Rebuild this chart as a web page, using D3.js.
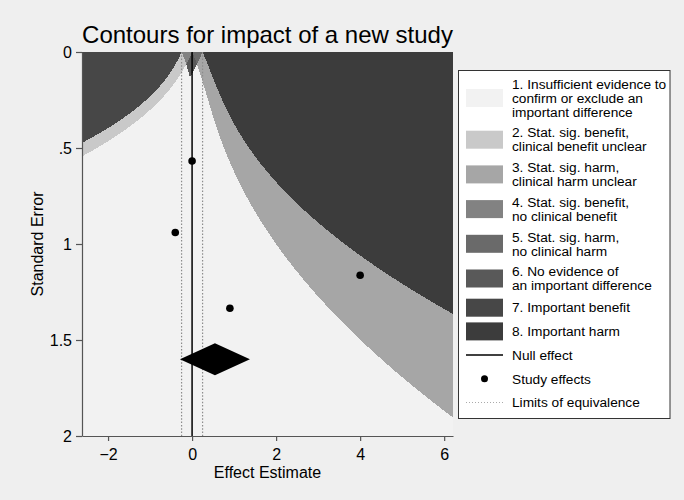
<!DOCTYPE html>
<html><head><meta charset="utf-8">
<script src="https://cdn.jsdelivr.net/npm/d3@7"></script>
<style>body{margin:0;background:#efefef}svg{display:block}</style>
</head><body>
<svg id="c" width="684" height="500"></svg>
<script>
// ---- data ----
const studyEffects = [0.00, -0.40, 0.90, 4.00];
const studySE = [0.568, 0.940, 1.335, 1.163];
const xTicks = [-2, 0, 2, 4, 6];
const yTicks = [0, 0.5, 1, 1.5, 2];
const yTickLabels = ["0", ".5", "1", "1.5", "2"];
const xDomain = [-2.62, 6.21];
const yDomain = [0, 2];
const equivLimit = 0.25;
const nullEffect = 0;
const zCrit = 1.96;
const pooledRow = 1.6;
const regionLabels = [
  ["1. Insufficient evidence to", "confirm or exclude an", "important difference"],
  ["2. Stat. sig. benefit,", "clinical benefit unclear"],
  ["3. Stat. sig. harm,", "clinical harm unclear"],
  ["4. Stat. sig. benefit,", "no clinical benefit"],
  ["5. Stat. sig. harm,", "no clinical harm"],
  ["6. No evidence of", "an important difference"],
  ["7. Important benefit"],
  ["8. Important harm"]
];
const regionColors = ["#f2f2f2", "#c9c9c9", "#a6a6a6", "#828282", "#6a6a6a", "#595959", "#474747", "#3c3c3c"];
const otherLabels = ["Null effect", "Study effects", "Limits of equivalence"];

// ---- layout ----
const svg = d3.select("#c");
const W = 684, H = 500;
svg.append("rect").attr("width", W).attr("height", H).attr("fill", "#efefef");
const x = d3.scaleLinear().domain(xDomain).range([82, 453]);
const y = d3.scaleLinear().domain(yDomain).range([52, 436]);
const font = "'Liberation Sans', Arial, Helvetica, sans-serif";

// ---- fixed-effect pooled meta-analysis ----
const w = studySE.map(s => 1 / (s * s));
const Wsum = d3.sum(w);
const pooled = d3.sum(studyEffects.map((e, i) => e * w[i])) / Wsum;
const pooledSE = 1 / Math.sqrt(Wsum);

// boundaries for new study with SE s: U(c): upper CI = c ; L(c): lower CI = c
function U(c, s) { const k = 1 + s * s * Wsum; return c * k - zCrit * s * Math.sqrt(k) - s * s * Wsum * pooled; }
function L(c, s) { const k = 1 + s * s * Wsum; return c * k + zCrit * s * Math.sqrt(k) - s * s * Wsum * pooled; }

const sGrid = d3.range(0, 2.0005, 0.0005);
const e = equivLimit, n0 = nullEffect;
const [xmin, xmax] = xDomain;
const regionDefs = {
  2: s => [U(-e, s), Math.min(U(n0, s), L(-e, s))],
  3: s => [Math.max(L(n0, s), U(e, s)), L(e, s)],
  4: s => [L(-e, s), U(n0, s)],
  5: s => [L(n0, s), U(e, s)],
  6: s => [Math.max(U(n0, s), L(-e, s)), Math.min(L(n0, s), U(e, s))],
  7: s => [xmin, U(-e, s)],
  8: s => [L(e, s), xmax]
};

const plot = svg.append("g");
// region 1 fills the plot area
plot.append("rect").attr("x", x(xmin)).attr("y", y(0)).attr("width", x(xmax) - x(xmin)).attr("height", y(2) - y(0))
  .attr("fill", regionColors[0]);
const clamp = v => Math.max(xmin, Math.min(xmax, v));
Object.keys(regionDefs).forEach(k => {
  const f = regionDefs[k];
  const pts = sGrid.map(s => {
    let [a, b] = f(s);
    return { s, a: clamp(a), b: clamp(b) };
  });
  const area = d3.area().defined(d => d.b > d.a).y(d => y(d.s)).x0(d => x(d.a)).x1(d => x(d.b));
  plot.append("path").attr("d", area(pts)).attr("fill", regionColors[+k - 1]).attr("shape-rendering", "crispEdges");
});

// limits of equivalence
[-e, e].forEach(v => {
  plot.append("line").attr("x1", x(v)).attr("x2", x(v)).attr("y1", y(0)).attr("y2", y(2))
    .attr("stroke", "#8c8c8c").attr("stroke-width", 1.2).attr("stroke-dasharray", "1.5,1.8");
});
// null line
plot.append("line").attr("x1", x(n0)).attr("x2", x(n0)).attr("y1", y(0)).attr("y2", y(2))
  .attr("stroke", "#000").attr("stroke-width", 1.5);

// study points
plot.selectAll("circle.st").data(studyEffects).enter().append("circle")
  .attr("cx", (d) => x(d)).attr("cy", (d, i) => y(studySE[i])).attr("r", 3.8).attr("fill", "#000");

// pooled diamond
const lo = pooled - zCrit * pooledSE, hi = pooled + zCrit * pooledSE, hh = 0.083;
plot.append("path").attr("d", d3.line()([
  [x(lo), y(pooledRow)], [x(pooled), y(pooledRow - hh)], [x(hi), y(pooledRow)], [x(pooled), y(pooledRow + hh)]
]) + "Z").attr("fill", "#000");

// axes
const xAxis = svg.append("g").attr("transform", `translate(0,${y(2)})`)
  .call(d3.axisBottom(x).tickValues(xTicks).tickSize(5).tickPadding(8).tickSizeOuter(0));
const yAxis = svg.append("g").attr("transform", `translate(${x(xmin)},0)`)
  .call(d3.axisLeft(y).tickValues(yTicks).tickFormat((d, i) => yTickLabels[i]).tickSize(6).tickPadding(4).tickSizeOuter(0));
[xAxis, yAxis].forEach(g => {
  g.select(".domain").attr("stroke", "#555").attr("stroke-width", 1.2);
  g.selectAll(".tick line").attr("stroke", "#555").attr("stroke-width", 1.2);
  g.selectAll(".tick text").attr("font-family", font).attr("font-size", 16).attr("fill", "#000");
});

// titles
svg.append("text").attr("x", 267.5).attr("y", 43).attr("text-anchor", "middle")
  .attr("font-family", font).attr("font-size", 24).attr("fill", "#000").text("Contours for impact of a new study");
svg.append("text").attr("x", 267.5).attr("y", 472).attr("dy", "0.35em").attr("text-anchor", "middle")
  .attr("font-family", font).attr("font-size", 16).attr("fill", "#000").text("Effect Estimate");
svg.append("text").attr("transform", "translate(37,244) rotate(-90)").attr("dy", "0.35em").attr("text-anchor", "middle")
  .attr("font-family", font).attr("font-size", 16).attr("fill", "#000").text("Standard Error");

// legend
const lg = svg.append("g");
lg.append("rect").attr("x", 458.5).attr("y", 70.5).attr("width", 211.5).attr("height", 348)
  .attr("fill", "#fff").attr("stroke", "#333").attr("stroke-width", 1);
const entries = regionLabels.map((l, i) => ({ lines: l, kind: "sw", color: regionColors[i] }))
  .concat([{ lines: [otherLabels[0]], kind: "line" }, { lines: [otherLabels[1]], kind: "dot" }, { lines: [otherLabels[2]], kind: "dash" }]);
const lineH = 14, gap = 6.7, minH = 17;
let yCur = 77;
const swX = 466, swW = 37, txX = 512;
entries.forEach(en => {
  const h = Math.max(en.lines.length * lineH, minH);
  const cy = yCur + h / 2;
  if (en.kind === "sw") {
    lg.append("rect").attr("x", swX).attr("y", cy - 9).attr("width", swW).attr("height", 18).attr("fill", en.color);
  } else if (en.kind === "line") {
    lg.append("line").attr("x1", swX).attr("x2", swX + swW).attr("y1", cy).attr("y2", cy).attr("stroke", "#000").attr("stroke-width", 1.5);
  } else if (en.kind === "dot") {
    lg.append("circle").attr("cx", swX + swW / 2).attr("cy", cy).attr("r", 3.5).attr("fill", "#000");
  } else {
    lg.append("line").attr("x1", swX).attr("x2", swX + swW).attr("y1", cy).attr("y2", cy).attr("stroke", "#aaa").attr("stroke-width", 1).attr("stroke-dasharray", "1,2");
  }
  en.lines.forEach((t, i) => {
    lg.append("text").attr("x", txX).attr("y", cy + (i - (en.lines.length - 1) / 2) * lineH).attr("dy", "0.35em")
      .attr("font-family", font).attr("font-size", 13.7).attr("fill", "#000").text(t);
  });
  yCur += h + gap;
});
</script>
</body></html>
